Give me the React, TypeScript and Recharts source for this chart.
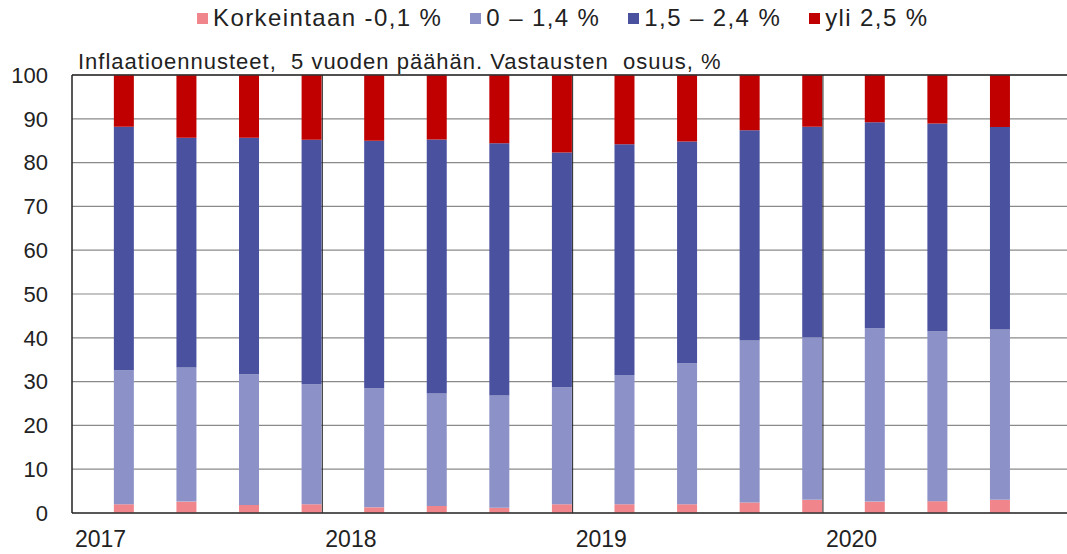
import React from "react";
import {
  BarChart,
  Bar,
  XAxis,
  YAxis,
  CartesianGrid,
  Legend,
  ReferenceLine,
} from "recharts";

// quarterly survey rounds, positioned in months from start of 2017
const quarters = ["2017Q1", "2017Q2", "2017Q3", "2017Q4", "2018Q1", "2018Q2", "2018Q3", "2018Q4", "2019Q1", "2019Q2", "2019Q3", "2019Q4", "2020Q1", "2020Q2", "2020Q3"];
const monthPos = [2.5, 5.5, 8.5, 11.5, 14.5, 17.5, 20.5, 23.5, 26.5, 29.5, 32.5, 35.5, 38.5, 41.5, 44.5];

const korkeintaan = [2.0, 2.6, 1.8, 2.0, 1.3, 1.6, 1.2, 2.0, 2.0, 2.0, 2.4, 3.0, 2.6, 2.7, 3.0];
const nollaYksi = [30.6, 30.6, 29.9, 27.4, 27.2, 25.7, 25.6, 26.7, 29.5, 32.2, 37.0, 37.1, 39.6, 38.8, 38.9];
const yksiKaksi = [55.6, 52.5, 54.0, 55.8, 56.5, 58.0, 57.6, 53.6, 52.7, 50.6, 48.0, 48.1, 47.0, 47.4, 46.2];
const yli = [11.8, 14.3, 14.3, 14.8, 15.0, 14.7, 15.6, 17.7, 15.8, 15.2, 12.6, 11.8, 10.8, 11.1, 11.9];

const yearTicks = [0, 12, 24, 36];
const yearLabels = ["2017", "2018", "2019", "2020"];
const yTicks = [0, 10, 20, 30, 40, 50, 60, 70, 80, 90, 100];

const SERIES = [
  { key: "k", name: "Korkeintaan -0,1 %", color: "#F0868C" },
  { key: "a", name: "0 – 1,4 %", color: "#8C92C8" },
  { key: "b", name: "1,5 – 2,4 %", color: "#4A52A0" },
  { key: "y", name: "yli 2,5 %", color: "#C00000" },
];

const FONT = "'Liberation Sans', Arial, sans-serif";

const data = quarters.map((q, i) => ({
  q,
  m: monthPos[i],
  k: korkeintaan[i],
  a: nollaYksi[i],
  b: yksiKaksi[i],
  y: yli[i],
}));

const YearTick = (props: any) => {
  const { x, y, payload } = props;
  const idx = yearTicks.indexOf(payload.value);
  return (
    <text x={x + 3} y={y + 26} textAnchor="start" fontSize={23} fill="#222" fontFamily={FONT}>
      {yearLabels[idx] ?? ""}
    </text>
  );
};

const LegendRow = () => (
  <div style={{ display: "flex", justifyContent: "flex-start", gap: 28, fontFamily: FONT, fontSize: 24, letterSpacing: 1.4, color: "#222", paddingLeft: 197 }}>
    {SERIES.map((s) => (
      <div key={s.key} style={{ display: "flex", alignItems: "center", gap: 5 }}>
        <span style={{ width: 11, height: 11, background: s.color, display: "inline-block" }} />
        <span>{s.name}</span>
      </div>
    ))}
  </div>
);

export default function App() {
  return (
    <div style={{ position: "absolute", left: 0, top: 0, width: 1067, height: 554, background: "#fff" }}>
      <div style={{ position: "absolute", left: 78, top: 49, fontFamily: FONT, fontSize: 22, letterSpacing: 1, color: "#222", whiteSpace: "pre" }}>
        {"Inflaatioennusteet,  5 vuoden päähän. Vastausten  osuus, %"}
      </div>
      <BarChart width={1067} height={554} data={data} margin={{ top: 35, right: 0, bottom: 11, left: 12 }}>
        <Legend verticalAlign="top" wrapperStyle={{ top: 4, left: 0, width: 1067 }} content={() => <LegendRow />} height={40} />
        <CartesianGrid vertical={false} stroke="#8a8a8a" strokeWidth={1.2} />
        <XAxis
          dataKey="m"
          type="number"
          domain={[0, 47.7]}
          ticks={yearTicks}
          tick={<YearTick />}
          tickLine={false}
          height={30}
          axisLine={{ stroke: "#333", strokeWidth: 1.5 }}
          allowDataOverflow
        />
        <YAxis
          domain={[0, 100]}
          ticks={yTicks}
          width={60}
          tickSize={0}
          tickMargin={24}
          tick={{ fontSize: 22, fill: "#222", fontFamily: FONT }}
          axisLine={{ stroke: "#222", strokeWidth: 1.5 }}
        />
        <ReferenceLine y={100} stroke="#333" strokeWidth={1.5} />
        {yearTicks.slice(1).map((t) => (
          <ReferenceLine key={t} x={t} stroke="#222" strokeWidth={1} />
        ))}
        {SERIES.map((s) => (
          <Bar key={s.key} dataKey={s.key} name={s.name} stackId="s" fill={s.color} barSize={20} isAnimationActive={false} />
        ))}
      </BarChart>
    </div>
  );
}
